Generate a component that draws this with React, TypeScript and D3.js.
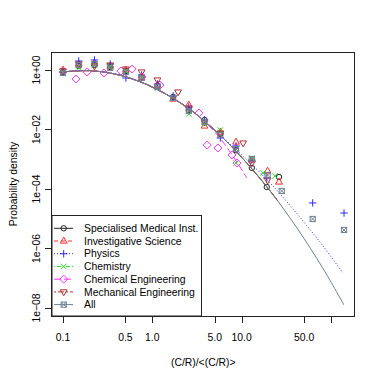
import React from 'react'
import * as d3 from 'd3'

// axis ticks
const X_TICKS = [0.1, 0.5, 1, 5, 10, 50, 100]
const X_LABELS = ['0.1', '0.5', '1.0', '5.0', '10.0', '50.0', '']
const Y_TICKS = [1, 1e-2, 1e-4, 1e-6, 1e-8]
const Y_LABELS = ['1e+00', '1e\u221202', '1e\u221204', '1e\u221206', '1e\u221208']

const NAMES = [
  'Specialised Medical Inst.',
  'Investigative Science',
  'Physics',
  'Chemistry',
  'Chemical Engineering',
  'Mechanical Engineering',
  'All',
]

// binned densities, [x, density]
const specMed = [
  [0.1, 0.857], [0.15, 1.36], [0.225, 1.47], [0.338, 1.26], [0.506, 0.926], [0.759, 0.582],
  [1.14, 0.29], [1.71, 0.124], [2.56, 0.0452], [3.84, 0.0209], [5.77, 0.0071], [8.65, 0.002],
  [13, 5.1e-4], [19.1, 1.17e-4], [26.2, 2.53e-4],
]
const invSci = [
  [0.1, 1.0], [0.15, 1.59], [0.225, 1.72], [0.338, 1.36], [0.506, 1.0], [0.759, 0.539],
  [1.14, 0.313], [1.71, 0.106], [2.56, 0.0667], [3.84, 0.0131], [5.77, 0.0082], [8.65, 0.0038],
  [13, 9.4e-4], [19.5, 4.0e-4], [26.2, 1.72e-4],
]
const physics = [
  [0.1, 0.857], [0.15, 2.01], [0.225, 2.17], [0.338, 1.59], [0.506, 0.539], [0.759, 0.679],
  [1.14, 0.338], [1.71, 0.134], [2.56, 0.0571], [3.84, 0.0209], [5.77, 0.0052], [8.65, 0.0028],
  [13, 9.4e-4], [19.1, 2.34e-4], [62.4, 3.4e-5], [140, 1.56e-5],
]
const chemistry = [
  [0.1, 0.926], [0.15, 1.17], [0.225, 1.47], [0.338, 1.36], [0.506, 0.926], [0.759, 0.582],
  [1.14, 0.248], [1.71, 0.115], [2.56, 0.0332], [3.84, 0.0153], [5.77, 0.0096], [8.65, 7.5e-4],
  [13, 0.0011], [17.4, 3.45e-4], [23.7, 2.74e-4],
]
const chemEng = [
  [0.1, 0.857], [0.14, 0.498], [0.186, 0.857], [0.288, 0.793], [0.446, 0.926], [0.594, 1.08],
  [0.768, 0.582], [1.22, 0.313], [3.33, 0.0359], [4.11, 0.003], [5.43, 0.0024], [7.79, 0.00139],
  [8.88, 7.5e-4],
]
const mechEng = [
  [0.1, 0.926], [0.15, 1.59], [0.225, 1.36], [0.338, 1.47], [0.506, 1.08], [0.759, 0.857],
  [1.14, 0.461], [1.94, 0.182], [2.56, 0.0528], [3.84, 0.0179], [5.77, 0.0076], [10.4, 0.0035],
  [13, 7.5e-4], [19.5, 2.0e-4],
]
const all = [
  [0.1, 0.793], [0.15, 1.47], [0.225, 1.59], [0.338, 1.17], [0.506, 0.857], [0.759, 0.539],
  [1.14, 0.268], [1.71, 0.115], [2.56, 0.0419], [3.84, 0.0179], [5.77, 0.0065], [8.65, 0.0022],
  [13, 0.00102], [19.5, 2.96e-4], [28.1, 8.6e-5], [62.4, 9.8e-6], [140, 4.2e-6],
]

// fitted curves as drawn
const fitAll = [
  [0.1, 0.863], [0.196, 0.95], [0.383, 0.73], [0.75, 0.39], [1.46, 0.147], [2.87, 0.039],
  [5.6, 0.0069], [10.9, 8.7e-4], [21.3, 7.9e-5], [41.8, 4.8e-6], [81.6, 2.1e-7], [140, 1.26e-8],
]
const fitPhysics = [
  [0.1, 0.863], [0.196, 0.95], [0.383, 0.73], [0.75, 0.39], [1.46, 0.147], [2.87, 0.039],
  [5.6, 0.0069], [10.9, 1.1e-3], [21.3, 1.48e-4], [41.8, 1.45e-5], [81.6, 1.2e-6], [136, 1.5e-7],
]
const fitChemEng = [
  [0.1, 0.863], [0.196, 0.95], [0.383, 0.73], [0.75, 0.39], [1.46, 0.147], [2.87, 0.039],
  [5.6, 0.0056], [11.5, 2.3e-4],
]
const FIT_END = [25, 27, 136, 24, 11.5, 20, 140]

const DATA = [specMed, invSci, physics, chemistry, chemEng, mechEng, all]
const FITS = [fitAll, fitAll, fitPhysics, fitAll, fitChemEng, fitAll, fitAll]

const COLORS = ['#222222', '#ff2a2a', '#2a2aff', '#22dd22', '#ff33ff', '#b03030', '#708090']
const DASHES = [null, '4,3', '1,2', '1,2,4,2', '7,3', '2,2,6,2', null]
const SHAPES = ['circle', 'triUp', 'plus', 'cross', 'diamond', 'triDown', 'squareX']

const W = 382
const H = 382
const L = 52
const R = 354.5
const T = 52
const B = 316
const FONT = '"Liberation Sans", Arial, sans-serif'

function Marker({ shape, cx, cy, color }: { shape: string, cx: number, cy: number, color: string }) {
  const p = { fill: 'none', stroke: color, strokeWidth: 1 }
  switch (shape) {
    case 'circle':
      return <circle cx={cx} cy={cy} r={2.7} {...p} />
    case 'triUp':
      return <path d={`M${cx},${cy - 3.9}L${cx + 3.4},${cy + 2.1}L${cx - 3.4},${cy + 2.1}Z`} {...p} />
    case 'triDown':
      return <path d={`M${cx},${cy + 3.9}L${cx + 3.4},${cy - 2.1}L${cx - 3.4},${cy - 2.1}Z`} {...p} />
    case 'plus':
      return <path d={`M${cx - 3.7},${cy}H${cx + 3.7}M${cx},${cy - 3.7}V${cy + 3.7}`} {...p} />
    case 'cross':
      return <path d={`M${cx - 2.7},${cy - 2.7}L${cx + 2.7},${cy + 2.7}M${cx - 2.7},${cy + 2.7}L${cx + 2.7},${cy - 2.7}`} {...p} />
    case 'diamond':
      return <path d={`M${cx},${cy - 4}L${cx + 4},${cy}L${cx},${cy + 4}L${cx - 4},${cy}Z`} {...p} />
    default:
      return (
        <g {...p}>
          <rect x={cx - 2.6} y={cy - 2.6} width={5.2} height={5.2} />
          <path d={`M${cx - 2.6},${cy - 2.6}L${cx + 2.6},${cy + 2.6}M${cx - 2.6},${cy + 2.6}L${cx + 2.6},${cy - 2.6}`} />
        </g>
      )
  }
}

export default function App() {
  const x = d3.scaleLog().domain([0.0753, 183.4]).range([L, R])
  const y = d3.scaleLog().domain([5.37e-9, 4.03]).range([B, T])
  const line = d3.line<number[]>()
    .x((d) => x(d[0]))
    .y((d) => y(d[1]))
    .curve(d3.curveCatmullRom)

  const legendRows = NAMES.map((n, i) => 228.3 + i * 12.72)

  return (
    <svg width={W} height={H} style={{ position: 'absolute', left: 0, top: 0, background: '#fff' }}
      fontFamily={FONT}>
      <defs>
        {FIT_END.map((e, i) => (
          <clipPath id={`clip${i}`} key={i}>
            <rect x={L} y={T} width={x(e) - L} height={B - T} />
          </clipPath>
        ))}
        <clipPath id="plotclip">
          <rect x={L} y={T} width={R - L} height={B - T} />
        </clipPath>
      </defs>

      <g clipPath="url(#plotclip)">
        {DATA.map((pts, i) => (
          <g key={i}>
            {pts.map((d, j) => (
              <Marker key={j} shape={SHAPES[i]} cx={x(d[0])} cy={y(d[1])} color={COLORS[i]} />
            ))}
            <path d={line(FITS[i]) || ''} fill="none" stroke={COLORS[i]} strokeWidth={1}
              strokeDasharray={DASHES[i] || undefined} clipPath={`url(#clip${i})`} />
          </g>
        ))}
      </g>

      {/* legend */}
      <rect x={52} y={215.5} width={149.5} height={100.5} fill="#fff" stroke="#222" />
      {NAMES.map((n, i) => (
        <g key={n}>
          <line x1={54} x2={73} y1={legendRows[i]} y2={legendRows[i]} stroke={COLORS[i]}
            strokeDasharray={DASHES[i] || undefined} />
          <Marker shape={SHAPES[i]} cx={63.7} cy={legendRows[i]} color={COLORS[i]} />
          <text x={84} y={legendRows[i] + 3.7} fontSize={10.4} fill="#000">{n}</text>
        </g>
      ))}

      {/* frame */}
      <rect x={51.5} y={52.5} width={303} height={264} fill="none" stroke="#222" />

      {/* x axis */}
      {X_TICKS.map((t, i) => (
        <g key={t}>
          <line x1={Math.round(x(t)) + 0.5} x2={Math.round(x(t)) + 0.5} y1={316} y2={323} stroke="#222" />
          <text x={x(t)} y={341} fontSize={10.4} textAnchor="middle">{X_LABELS[i]}</text>
        </g>
      ))}
      <text x={(L + R) / 2} y={365.5} fontSize={10.4} textAnchor="middle">(C/R)/&lt;(C/R)&gt;</text>

      {/* y axis */}
      {Y_TICKS.map((t, i) => (
        <g key={t}>
          <line x1={45} x2={52} y1={Math.round(y(t)) + 0.5} y2={Math.round(y(t)) + 0.5} stroke="#222" />
          <text transform={`translate(40,${y(t)}) rotate(-90)`} fontSize={10.4} textAnchor="middle">{Y_LABELS[i]}</text>
        </g>
      ))}
      <text transform={`translate(17,${(T + B) / 2}) rotate(-90)`} fontSize={10.4} textAnchor="middle">Probability density</text>
    </svg>
  )
}
